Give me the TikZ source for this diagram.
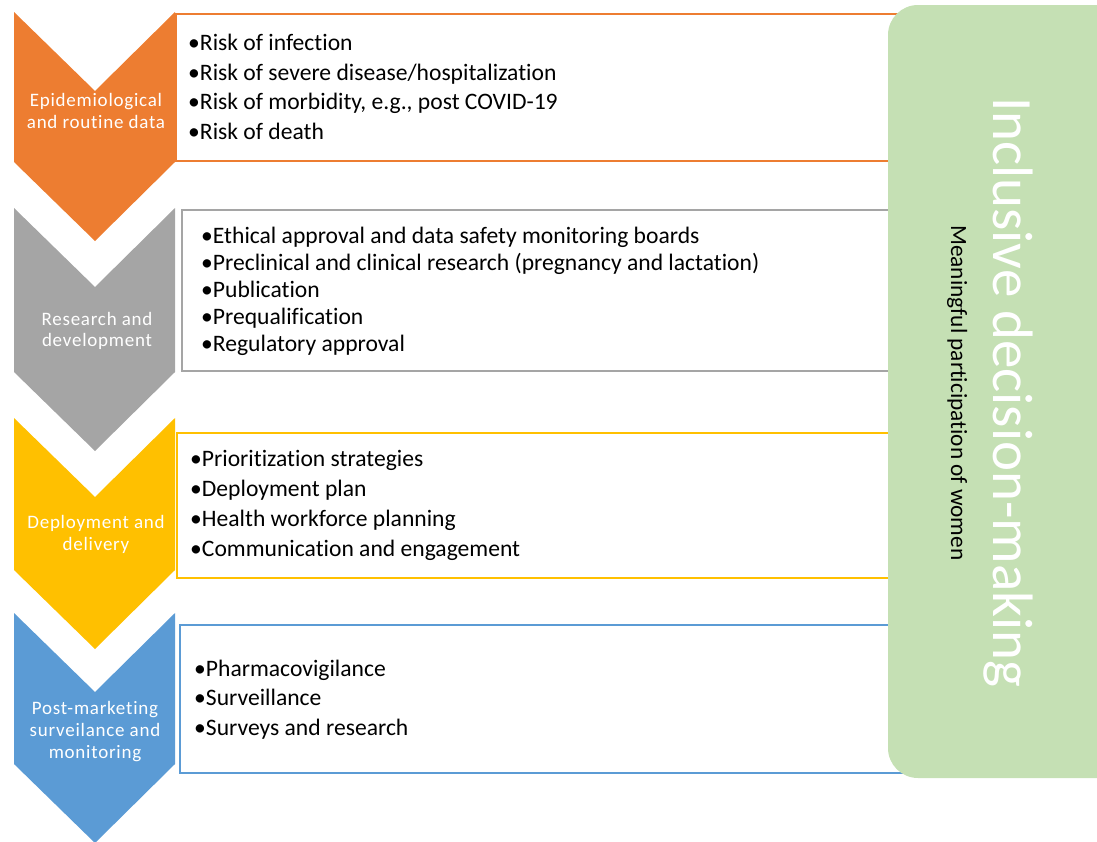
\documentclass[tikz,border=0pt]{standalone}
\usepackage{fontspec}
\setmainfont[Ligatures=CommonOff]{Carlito}
\newfontfamily\stagefont[LetterSpace=4, Ligatures=CommonOff]{Carlito}
\definecolor{epiorange}{HTML}{ED7D31}
\definecolor{rdgrey}{HTML}{A5A5A5}
\definecolor{depyellow}{HTML}{FFC000}
\definecolor{pmblue}{HTML}{5B9BD5}
\definecolor{incgreen}{HTML}{C5E0B4}
\begin{document}
\begin{tikzpicture}[x=1pt, y=-1pt,
	stage/.style={text=white, align=center, inner sep=0pt, anchor=base, font=\stagefont\fontsize{19}{21.7}\selectfont},
	item/.style={anchor=base west, inner sep=0pt, font=\fontsize{23.6}{28}\selectfont},
	frame/.style={draw=#1, line width=2.5pt, fill=white}]
	\useasboundingbox (0,0) rectangle (1097,841);
	\clip (0,0) rectangle (1097,841);
	% chevrons
	\foreach \c/\t/\b in {epiorange/12/162, rdgrey/208/372, depyellow/418/570, pmblue/613/764}{
		\fill[\c] (14,\t)--(95,\t+79)--(175,\t)--(175,\b)--(95,\b+79)--(14,\b)--cycle;
	}
	\node[stage] (epi) at (96,128.3) {Epidemiological\\and routine data};
	\node[stage] (rd) at (97,346.7) {Research and\\development};
	\node[stage] (dep) at (96,550) {Deployment and\\delivery};
	\node[stage] (pm) at (95,758.3) {Post-marketing\\surveilance and\\monitoring};
	% boxes
	\foreach \c/\l/\t/\b in {epiorange/176/14/161, rdgrey/182/210/371, depyellow/177/433/578, pmblue/180/625/773}{
		\draw[frame=\c] (\l,\t) rectangle (910,\b);
	}
	\foreach \txt [count=\i] in {Risk of infection, Risk of severe disease/hospitalization, {Risk of morbidity, e.g., post COVID-19}, Risk of death}
		\node[item] (epi\i) at (188,50.7+29.5*\i-29.5) {•\txt};
	\foreach \txt [count=\i] in {Ethical approval and data safety monitoring boards, Preclinical and clinical research (pregnancy and lactation), Publication, Prequalification, Regulatory approval}
		\node[item] (rd\i) at (201,243+27.2*\i-27.2) {•\txt};
	\foreach \txt [count=\i] in {Prioritization strategies, Deployment plan, Health workforce planning, Communication and engagement}
		\node[item] (dep\i) at (190,466.7+30*\i-30) {•\txt};
	\foreach \txt [count=\i] in {Pharmacovigilance, Surveillance, Surveys and research}
		\node[item] (pm\i) at (194,676+29.5*\i-29.5) {•\txt};
	% inclusive decision-making
	\fill[incgreen, rounded corners=30pt] (888,5) rectangle (1140,778);
	\node[rotate=-90, anchor=base west, inner sep=0pt, text=white, font=\fontsize{57}{60}\selectfont] (incl) at (993,97) {Inclusive decision-making};
	\node[rotate=-90, anchor=base west, inner sep=0pt, font=\fontsize{23.3}{26}\selectfont] (women) at (951,225) {Meaningful participation of women};
\end{tikzpicture}
\end{document}
